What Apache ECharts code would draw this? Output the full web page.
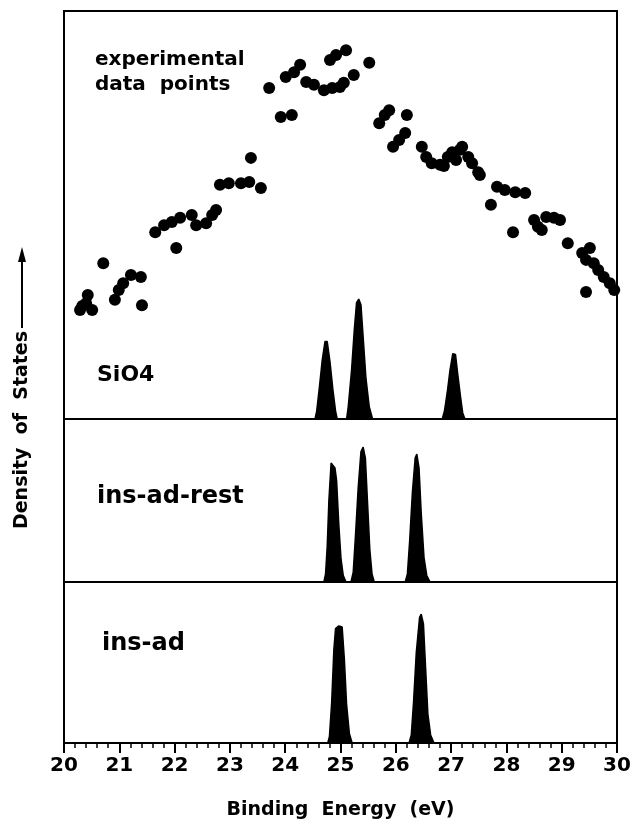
<!DOCTYPE html>
<html>
<head>
<meta charset="utf-8">
<script src="https://cdn.jsdelivr.net/npm/echarts@6/dist/echarts.min.js"></script>
<style>
html,body{margin:0;padding:0;background:#fff;}
#chart{width:638px;height:826px;}
</style>
</head>
<body>
<div id="chart"></div>
<script>
// ---- data (x: binding energy in eV, y: arbitrary density units 0-100 per panel) ----
const xMin = 20, xMax = 30, xStep = 1;
const panelLabels = ['SiO4', 'ins-ad-rest', 'ins-ad'];
const experimentalLabel = ['experimental', 'data  points'];

const experimentalPoints = [
  [20.29,26.7],[20.33,27.7],[20.40,28.4],[20.43,30.4],[20.51,26.7],[20.71,38.2],
  [20.92,29.2],[20.99,31.6],[21.07,33.3],[21.21,35.3],[21.39,34.8],[21.41,27.9],
  [21.65,45.8],[21.81,47.5],[21.95,48.3],[22.03,41.9],[22.10,49.3],[22.31,50.0],
  [22.39,47.5],[22.57,48.0],[22.68,50.0],[22.75,51.2],[22.82,57.4],[22.98,57.8],
  [23.20,57.8],[23.35,58.1],[23.38,64.0],[23.56,56.6],[23.71,81.1],[23.92,74.0],
  [24.12,74.5],[24.01,83.8],[24.16,85.0],[24.27,86.8],[24.38,82.6],[24.52,81.9],
  [24.70,80.6],[24.85,81.1],[24.99,81.4],[25.06,82.4],[24.81,88.0],[24.92,89.2],
  [25.10,90.4],[25.24,84.3],[25.52,87.3],[25.70,72.5],[25.80,74.5],[25.88,75.7],
  [25.95,66.7],[26.06,68.4],[26.17,70.1],[26.20,74.5],[26.47,66.7],[26.55,64.2],
  [26.65,62.7],[26.80,62.3],[26.87,62.0],[26.94,64.2],[27.02,65.4],[27.09,63.5],
  [27.16,66.0],[27.20,66.7],[27.31,64.2],[27.38,62.7],[27.49,60.5],[27.52,59.8],
  [27.72,52.5],[27.83,56.9],[27.97,56.1],[28.16,55.6],[28.34,55.4],[28.12,45.8],
  [28.50,48.8],[28.57,47.1],[28.64,46.3],[28.72,49.5],[28.86,49.3],[28.97,48.8],
  [29.11,43.1],[29.37,40.7],[29.51,41.9],[29.44,39.0],[29.58,38.2],[29.66,36.5],
  [29.76,34.8],[29.87,33.3],[29.95,31.6],[29.44,31.1]
];

const sio4Peaks = [
  [24.54,0],[24.57,2],[24.62,8],[24.67,14.5],[24.72,19],[24.74,19.4],[24.76,19],
  [24.81,14],[24.86,7.5],[24.91,2],[24.94,0],
  [25.11,0],[25.14,3],[25.20,12],[25.25,22],[25.29,28.5],[25.33,29.4],[25.37,28],
  [25.41,20],[25.46,10],[25.52,3],[25.58,0],
  [26.84,0],[26.88,2],[26.93,6.5],[26.98,12],[27.03,16],[27.05,16.4],[27.08,15.8],
  [27.12,11],[27.17,5.5],[27.21,1.5],[27.25,0]
];

const insAdRestPeaks = [
  [24.70,0],[24.73,5],[24.76,22],[24.79,50],[24.83,73],[24.90,70],[24.93,62],
  [24.97,35],[25.01,14],[25.05,4],[25.10,0],
  [25.19,0],[25.23,6],[25.27,28],[25.32,58],[25.37,80],[25.41,82.8],[25.45,76],
  [25.49,48],[25.53,20],[25.57,5],[25.61,0],
  [26.17,0],[26.21,5],[26.25,25],[26.30,55],[26.35,76],[26.38,78.5],[26.42,70],
  [26.46,42],[26.51,15],[26.56,4],[26.62,0]
];

const insAdPeaks = [
  [24.77,0],[24.80,4],[24.84,25],[24.88,58],[24.91,71],[24.97,72.7],[25.03,72],
  [25.07,52],[25.11,24],[25.16,6],[25.21,0],
  [26.24,0],[26.28,5],[26.32,25],[26.37,56],[26.43,78],[26.46,80],[26.50,74],
  [26.54,46],[26.58,18],[26.63,5],[26.69,0]
];

// ---- chart ----
const FONT = 'DejaVu Sans';
const chart = echarts.init(document.getElementById('chart'), null, {renderer:'canvas'});

const gridBase = {left:64, right:21, show:true, borderColor:'#000', borderWidth:2, backgroundColor:'transparent'};
const grids = [
  Object.assign({top:11, height:408}, gridBase),
  Object.assign({top:419, height:163}, gridBase),
  Object.assign({top:582, height:161}, gridBase)
];

function xAxisFor(i, showLabels){
  return {
    type:'value', gridIndex:i, min:xMin, max:xMax, interval:xStep,
    axisLine:{show:true, onZero:false, lineStyle:{color:'#000', width:2}},
    axisTick:{show:showLabels, inside:false, length:10, lineStyle:{color:'#000', width:2}},
    minorTick:{show:showLabels, splitNumber:5, length:5, lineStyle:{color:'#000', width:1.5}},
    axisLabel:{show:showLabels, color:'#000', fontFamily:FONT, fontWeight:'bold', fontSize:20, margin:13},
    splitLine:{show:false},
    name: showLabels ? 'Binding  Energy  (eV)' : '',
    nameLocation:'middle', nameGap:58,
    nameTextStyle:{color:'#000', fontFamily:FONT, fontWeight:'bold', fontSize:19}
  };
}
function yAxisFor(i){
  return {type:'value', gridIndex:i, min:0, max:100, show:false};
}

function peakSeries(i, data){
  return {
    type:'line', xAxisIndex:i, yAxisIndex:i, data:data, symbol:'none', smooth:false,
    lineStyle:{color:'#000', width:1.5}, areaStyle:{color:'#000', opacity:1, origin:'start'},
    silent:true, animation:false
  };
}

const labelStyle = (size) => ({fill:'#000', font:'bold '+size+'px "'+FONT+'"'});

chart.setOption({
  animation:false,
  backgroundColor:'#fff',
  grid:grids,
  xAxis:[xAxisFor(0,false), xAxisFor(1,false), xAxisFor(2,true)],
  yAxis:[yAxisFor(0), yAxisFor(1), yAxisFor(2)],
  series:[
    {type:'scatter', xAxisIndex:0, yAxisIndex:0, data:experimentalPoints, symbolSize:12,
     itemStyle:{color:'#000', opacity:1}, silent:true},
    peakSeries(0, sio4Peaks),
    peakSeries(1, insAdRestPeaks),
    peakSeries(2, insAdPeaks)
  ],
  graphic:[
    {type:'text', left:95, top:50, style:Object.assign({text:experimentalLabel[0]}, labelStyle(20))},
    {type:'text', left:95, top:75, style:Object.assign({text:experimentalLabel[1]}, labelStyle(20))},
    {type:'text', left:97, top:364, style:Object.assign({text:panelLabels[0]}, labelStyle(22))},
    {type:'text', left:97, top:485, style:Object.assign({text:panelLabels[1]}, labelStyle(24))},
    {type:'text', left:102, top:632, style:Object.assign({text:panelLabels[2]}, labelStyle(24))},
    {type:'text', x:22, y:430, rotation:Math.PI/2,
     style:{text:'Density  of  States', fill:'#000', font:'bold 19px "'+FONT+'"', align:'center', verticalAlign:'middle'}},
    {type:'line', shape:{x1:22, y1:328, x2:22, y2:258}, style:{stroke:'#000', lineWidth:2}},
    {type:'polygon', shape:{points:[[22,247],[18,262],[26,262]]}, style:{fill:'#000'}}
  ]
});
</script>
</body>
</html>
